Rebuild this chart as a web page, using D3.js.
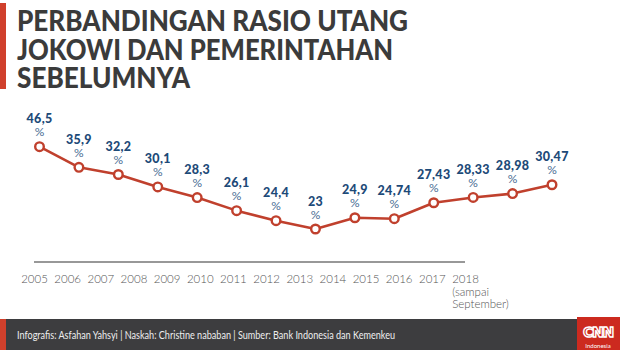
<!DOCTYPE html>
<html>
<head>
<meta charset="utf-8">
<script src="https://cdn.jsdelivr.net/npm/d3@7/dist/d3.min.js"></script>
<style>
  html, body { margin: 0; padding: 0; background: #fff; }
  svg { display: block; }
</style>
</head>
<body>
<svg id="chart" width="620" height="350"></svg>
<script>
// ---- data ----
const years = ["2005","2006","2007","2008","2009","2010","2011","2012","2013","2014","2015","2016","2017","2018"];
const ratios = [46.5, 35.9, 32.2, 30.1, 28.3, 26.1, 24.4, 23, 24.9, 24.74, 27.43, 28.33, 28.98, 30.47];
const valueLabels = ["46,5","35,9","32,2","30,1","28,3","26,1","24,4","23","24,9","24,74","27,43","28,33","28,98","30,47"];
const lastYearNote = ["(sampai", "September)"];
const titleLines = ["PERBANDINGAN RASIO UTANG", "JOKOWI DAN PEMERINTAHAN", "SEBELUMNYA"];
const footerText = "Infografis: Asfahan Yahsyi | Naskah: Christine nababan | Sumber: Bank Indonesia dan Kemenkeu";

const svg = d3.select("#chart");
const W = 620, H = 350;

const red = "#c0402d";
const blue = "#1d4a78";

// ---- title block ----
svg.append("rect").attr("x", 0).attr("y", 3).attr("width", 6).attr("height", 86).attr("fill", "#d0402c");
const titleBase = [31, 60, 88];
const titleWidths = [391, 376, 173];
titleLines.forEach((t, i) => {
  svg.append("text")
    .attr("x", 17).attr("y", titleBase[i])
    .attr("font-family", "Lato, 'Open Sans', sans-serif")
    .attr("font-weight", 900)
    .attr("font-size", 28)
    .attr("fill", "#3b3b3b")
    .attr("textLength", titleWidths[i])
    .attr("lengthAdjust", "spacingAndGlyphs")
    .text(t);
});

// ---- scales ----
// axis labels positions
const xAxisScale = d3.scalePoint().domain(years).range([34, 465]);
// data points positions (drawn on a wider spacing in the original)
const xPoint = d3.scalePoint().domain(years).range([39.5, 552]);
const y = d3.scaleLinear().domain([23, 32.2, 46.5]).range([229, 174.5, 146.7]);

// ---- axis ----
const axis = d3.axisBottom(xAxisScale).tickSize(0).tickPadding(0);
const gAxis = svg.append("g").attr("transform", "translate(0,262)").call(axis);
gAxis.select(".domain").attr("stroke", "#333").attr("stroke-width", 1.2).attr("d", `M${xAxisScale.range()[0]},0H${xAxisScale.range()[1]}`);
gAxis.selectAll(".tick text")
  .attr("font-family", "Lato, sans-serif")
  .attr("font-weight", 300)
  .attr("font-size", 11.5)
  .attr("fill", "#555")
  .attr("dy", null)
  .attr("y", 21);
// extra lines under last year
const lastTick = gAxis.selectAll(".tick").filter(d => d === years[years.length - 1]);
const lt = lastTick.select("text");
const bb = lt.node().getBBox();
lastYearNote.forEach((s, i) => {
  lastTick.append("text")
    .attr("x", bb.x).attr("y", 21 + 12.5 * (i + 1))
    .attr("text-anchor", "start")
    .attr("font-family", "Lato, sans-serif")
    .attr("font-weight", 300)
    .attr("font-size", 11.5)
    .attr("fill", "#555")
    .text(s);
});

// ---- line ----
const line = d3.line().x((d, i) => xPoint(years[i])).y(d => y(d));
svg.append("path").datum(ratios)
  .attr("d", line)
  .attr("fill", "none")
  .attr("stroke", red)
  .attr("stroke-width", 2.6)
  .attr("stroke-linejoin", "round");

svg.selectAll("circle.pt").data(ratios).enter().append("circle")
  .attr("class", "pt")
  .attr("cx", (d, i) => xPoint(years[i]))
  .attr("cy", d => y(d))
  .attr("r", 4.3)
  .attr("fill", "#fff")
  .attr("stroke", red)
  .attr("stroke-width", 2.4);

// ---- value labels ----
const lab = svg.selectAll("g.lab").data(ratios).enter().append("g")
  .attr("class", "lab")
  .attr("transform", (d, i) => `translate(${xPoint(years[i])},${y(d)})`);
lab.append("text")
  .attr("y", -23.5)
  .attr("text-anchor", "middle")
  .attr("font-family", "Lato, sans-serif")
  .attr("font-weight", 900)
  .attr("font-size", 12.5)
  .attr("letter-spacing", 0.3)
  .attr("fill", blue)
  .text((d, i) => valueLabels[i]);
lab.append("text")
  .attr("y", -10.5)
  .attr("text-anchor", "middle")
  .attr("font-family", "Lato, sans-serif")
  .attr("font-weight", 400)
  .attr("font-size", 12)
  .attr("fill", "#4a6d94")
  .text("%");

// ---- footer ----
svg.append("rect").attr("x", 0).attr("y", 319).attr("width", W).attr("height", 31).attr("fill", "#3d3d3f");
svg.append("rect").attr("x", 0).attr("y", 319).attr("width", 6).attr("height", 31).attr("fill", "#d0402c");
svg.append("text")
  .attr("x", 17).attr("y", 339)
  .attr("font-family", "Lato, sans-serif")
  .attr("font-size", 11)
  .attr("fill", "#eeeeee")
  .attr("textLength", 378)
  .attr("lengthAdjust", "spacingAndGlyphs")
  .text(footerText);
// CNN logo
svg.append("rect").attr("x", 577).attr("y", 317).attr("width", 43).attr("height", 33).attr("fill", "#cc2a1f");
svg.append("text")
  .attr("x", 598).attr("y", 337)
  .attr("text-anchor", "middle")
  .attr("font-family", "'DejaVu Sans', sans-serif")
  .attr("font-weight", 700)
  .attr("font-size", 14)
  .attr("fill", "none")
  .attr("stroke", "#fff")
  .attr("stroke-width", 1.4)
  .attr("letter-spacing", -1.2)
  .text("CNN");
svg.append("text")
  .attr("x", 598).attr("y", 348)
  .attr("text-anchor", "middle")
  .attr("font-family", "Lato, sans-serif")
  .attr("font-size", 6)
  .attr("fill", "#fff")
  .text("Indonesia");
</script>
</body>
</html>
